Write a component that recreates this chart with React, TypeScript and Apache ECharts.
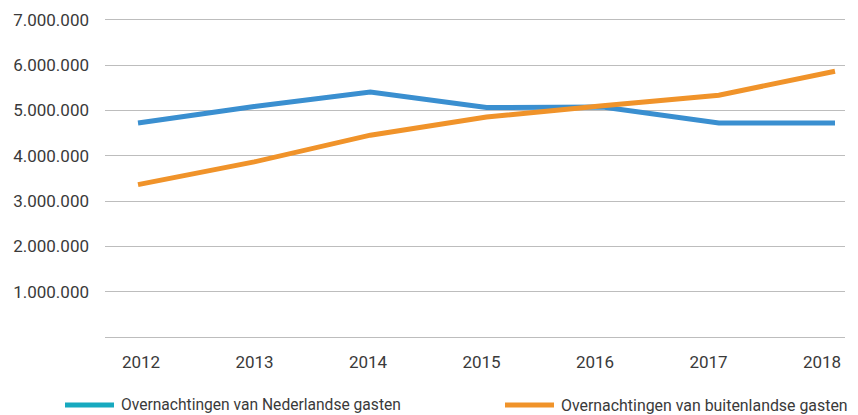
import React, { useEffect, useRef } from "react";
import * as echarts from "echarts";

const years = ["2012", "2013", "2014", "2015", "2016", "2017", "2018"];
const nederlandse = [4720000, 5080000, 5400000, 5060000, 5070000, 4720000, 4720000];
const buitenlandse = [3360000, 3860000, 4450000, 4850000, 5100000, 5330000, 5860000];
const nameNL = "Overnachtingen van Nederlandse gasten";
const nameBL = "Overnachtingen van buitenlandse gasten";

const fmt = (v: number) => (v === 0 ? "" : String(v).replace(/\B(?=(\d{3})+(?!\d))/g, "."));

export default function App() {
  const ref = useRef<HTMLDivElement>(null);
  useEffect(() => {
    if (!ref.current) return;
    const chart = echarts.init(ref.current, undefined, { renderer: "svg" });
    const font = "Roboto, 'Noto Sans', sans-serif";
    const top = 19.5;
    const bottom = 78;
    chart.setOption({
      animation: false,
      backgroundColor: "#ffffff",
      grid: [
        { left: 105, right: 13, top, bottom },
        { left: 138, right: 23, top, bottom },
        { left: 141, right: 36, top, bottom },
      ],
      xAxis: [
        { type: "category", gridIndex: 0, data: years, show: false },
        { type: "category", gridIndex: 1, data: years, boundaryGap: false, show: false },
        {
          type: "category",
          gridIndex: 2,
          data: years,
          boundaryGap: false,
          axisLine: { show: false },
          axisTick: { show: false },
          axisLabel: { color: "#3a3a3a", fontSize: 17, fontFamily: font, margin: 16 },
        },
      ],
      yAxis: [
        {
          type: "value",
          gridIndex: 0,
          min: 0,
          max: 7000000,
          interval: 1000000,
          axisLine: { show: false },
          axisTick: { show: false },
          splitLine: { lineStyle: { color: "#bdbdbd", width: 1 } },
          axisLabel: { color: "#3a3a3a", fontSize: 17, fontFamily: font, margin: 16, formatter: fmt },
        },
        { type: "value", gridIndex: 1, min: 0, max: 7000000, show: false, splitLine: { show: false } },
        { type: "value", gridIndex: 2, min: 0, max: 7000000, show: false, splitLine: { show: false } },
      ],
      legend: [
        {
          left: 60,
          top: 392,
          itemWidth: 49,
          itemHeight: 5,
          icon: "rect",
          itemGap: 10,
          textStyle: { color: "#3a3a3a", fontSize: 15.6, fontFamily: font, padding: [0, 0, 0, 2] },
          data: [{ name: nameNL, itemStyle: { color: "#17a9bf" } }],
        },
        {
          left: 500,
          top: 392,
          itemWidth: 49,
          itemHeight: 5,
          icon: "rect",
          textStyle: { color: "#3a3a3a", fontSize: 15.9, fontFamily: font, padding: [0, 0, 0, 2] },
          data: [{ name: nameBL, itemStyle: { color: "#f0932a" } }],
        },
      ],
      series: [
        {
          name: nameNL,
          type: "line",
          xAxisIndex: 1,
          yAxisIndex: 1,
          data: nederlandse,
          symbol: "none",
          lineStyle: { color: "#3a8fd0", width: 5, cap: "butt", join: "miter" },
          itemStyle: { color: "#3a8fd0" },
        },
        {
          name: nameBL,
          type: "line",
          xAxisIndex: 1,
          yAxisIndex: 1,
          data: buitenlandse,
          symbol: "none",
          lineStyle: { color: "#f0932a", width: 5, cap: "butt", join: "miter" },
          itemStyle: { color: "#f0932a" },
        },
      ],
    });
    return () => chart.dispose();
  }, []);
  return <div ref={ref} style={{ width: 858, height: 415, position: "absolute", left: 0, top: 0 }} />;
}
